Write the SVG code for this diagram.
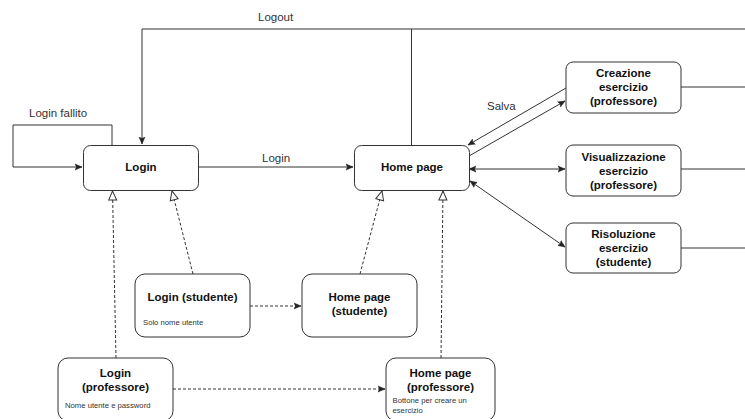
<svg xmlns="http://www.w3.org/2000/svg" width="745" height="419" viewBox="0 0 745 419">
<style>
.node{fill:#fff;stroke:#333;stroke-width:1}
.t{font-family:"Liberation Sans",Arial,sans-serif;font-size:11.5px;font-weight:bold;fill:#111;text-anchor:middle}
.s{font-family:"Liberation Sans",Arial,sans-serif;font-size:7.7px;fill:#333}
.lbl{font-family:"Liberation Sans",Arial,sans-serif;font-size:11.5px;fill:#333}
.e{fill:none;stroke:#333;stroke-width:1}
.d{fill:none;stroke:#333;stroke-width:1;stroke-dasharray:3,2}
</style>
<defs>
<marker id="a" markerWidth="8" markerHeight="8" refX="7" refY="4" orient="auto" markerUnits="userSpaceOnUse">
<path d="M0,1 L7,4 L0,7 L1.5,4 z" fill="#222" stroke="#222" stroke-width="0.5"/>
</marker>
<marker id="as" markerWidth="8" markerHeight="8" refX="1" refY="4" orient="auto" markerUnits="userSpaceOnUse">
<path d="M8,1 L1,4 L8,7 L6.5,4 z" fill="#222" stroke="#222" stroke-width="0.5"/>
</marker>
<marker id="h" markerWidth="12" markerHeight="12" refX="10" refY="5" orient="auto" markerUnits="userSpaceOnUse">
<path d="M1,1 L10,5 L1,9 z" fill="#fff" stroke="#333" stroke-width="1"/>
</marker>
</defs>

<g id="connectors">
<polyline class="e" points="745,29 142,29 142,144" marker-end="url(#a)"/>
<line class="e" x1="411.5" y1="29" x2="411.5" y2="145"/>
<polyline class="e" points="112,145 112,125 13,125 13,167 82,167" marker-end="url(#a)"/>
<line class="e" x1="199" y1="167" x2="353" y2="167" marker-end="url(#a)"/>
<line class="e" x1="566" y1="88" x2="468" y2="145" marker-end="url(#a)"/>
<line class="e" x1="469" y1="156" x2="565" y2="101" marker-end="url(#a)"/>
<line class="e" x1="469" y1="169" x2="565" y2="169" marker-start="url(#as)" marker-end="url(#a)"/>
<line class="e" x1="470" y1="181" x2="565" y2="247" marker-start="url(#as)" marker-end="url(#a)"/>
<line class="e" x1="681" y1="87" x2="745" y2="87"/>
<line class="e" x1="681" y1="169" x2="745" y2="169"/>
<line class="e" x1="681" y1="248" x2="745" y2="248"/>
<line class="d" x1="116" y1="358" x2="112.5" y2="191" marker-end="url(#h)"/>
<line class="d" x1="193" y1="274" x2="172" y2="191" marker-end="url(#h)"/>
<line class="d" x1="360" y1="274" x2="382" y2="191" marker-end="url(#h)"/>
<line class="d" x1="441" y1="358" x2="443" y2="191" marker-end="url(#h)"/>
<line class="d" x1="250" y1="306" x2="301" y2="306" marker-end="url(#a)"/>
<line class="d" x1="173" y1="389" x2="385" y2="389" marker-end="url(#a)"/>
<text class="lbl" x="258" y="20.5">Logout</text>
<text class="lbl" x="29" y="117">Login fallito</text>
<text class="lbl" x="262" y="162">Login</text>
<text class="lbl" x="487" y="110">Salva</text>
</g>

<g id="login">
<rect class="node" x="83.5" y="145.5" width="115" height="45" rx="7"/>
<text class="t" x="141" y="171">Login</text>
</g>
<g id="homepage">
<rect class="node" x="354.5" y="145.5" width="115" height="45" rx="7"/>
<text class="t" x="412" y="171">Home page</text>
</g>
<g id="creazione">
<rect class="node" x="566" y="62" width="115" height="51" rx="7"/>
<text class="t" x="623.5" y="77">Creazione</text>
<text class="t" x="623.5" y="91">esercizio</text>
<text class="t" x="623.5" y="105">(professore)</text>
</g>
<g id="visualizzazione">
<rect class="node" x="566" y="145" width="115" height="51" rx="7"/>
<text class="t" x="623.5" y="161">Visualizzazione</text>
<text class="t" x="623.5" y="175">esercizio</text>
<text class="t" x="623.5" y="189">(professore)</text>
</g>
<g id="risoluzione">
<rect class="node" x="566" y="223" width="115" height="50" rx="7"/>
<text class="t" x="623.5" y="238">Risoluzione</text>
<text class="t" x="623.5" y="252">esercizio</text>
<text class="t" x="623.5" y="266">(studente)</text>
</g>
<g id="login-studente">
<rect class="node" x="135" y="274" width="115" height="63" rx="10"/>
<text class="t" x="192.5" y="301">Login (studente)</text>
<text class="s" x="143" y="324.5">Solo nome utente</text>
</g>
<g id="home-studente">
<rect class="node" x="302" y="274" width="115" height="63" rx="10"/>
<text class="t" x="359.5" y="301">Home page</text>
<text class="t" x="359.5" y="315">(studente)</text>
</g>
<g id="login-professore">
<rect class="node" x="58" y="358" width="115" height="63" rx="10"/>
<text class="t" x="115.5" y="377">Login</text>
<text class="t" x="115.5" y="391">(professore)</text>
<text class="s" x="65" y="408">Nome utente e password</text>
</g>
<g id="home-professore">
<rect class="node" x="386" y="358" width="109" height="63" rx="10"/>
<text class="t" x="440.5" y="377">Home page</text>
<text class="t" x="440.5" y="391">(professore)</text>
<text class="s" x="392.5" y="403">Bottone per creare un</text>
<text class="s" x="392.5" y="412.5">esercizio</text>
</g>
</svg>
